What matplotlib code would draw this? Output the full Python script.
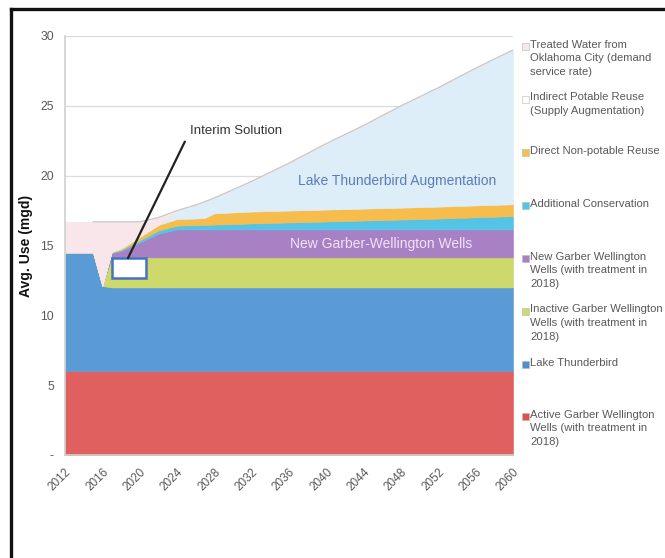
import numpy as np
import matplotlib
matplotlib.use('Agg')
import matplotlib.pyplot as plt
from matplotlib.lines import Line2D
from matplotlib.patches import Rectangle

plt.rcParams['font.family'] = ['Liberation Sans', 'DejaVu Sans']

# Years where the series change slope
years = [2012, 2015, 2016, 2017, 2018, 2020, 2022, 2024, 2026, 2027, 2028,
         2032, 2036, 2040, 2044, 2048, 2052, 2056, 2060]

# Layer thicknesses (mgd), bottom to top
active_gw = [6.0] * 19
lake_thunderbird = [8.5, 8.5, 6.1, 6.0, 6.0, 6.0, 6.0, 6.0, 6.0, 6.0, 6.0,
                    6.0, 6.0, 6.0, 6.0, 6.0, 6.0, 6.0, 6.0]
inactive_gw = [0, 0, 0, 2.15, 2.15, 2.15, 2.15, 2.15, 2.15, 2.15, 2.15,
               2.15, 2.15, 2.15, 2.15, 2.15, 2.15, 2.15, 2.15]
new_gw = [0, 0, 0, 0.3, 0.45, 1.07, 1.7, 2.0, 2.0, 2.0, 2.0,
          2.0, 2.0, 2.0, 2.0, 2.0, 2.0, 2.0, 2.0]
conservation = [0, 0, 0, 0.05, 0.08, 0.15, 0.22, 0.27, 0.31, 0.33, 0.35,
                0.43, 0.5, 0.57, 0.64, 0.71, 0.78, 0.87, 0.95]
non_potable = [0, 0, 0, 0.05, 0.1, 0.25, 0.4, 0.47, 0.47, 0.5, 0.8,
               0.85, 0.85, 0.85, 0.85, 0.85, 0.85, 0.85, 0.85]
indirect_potable = [0, 0, 0, 0, 0, 0, 0, 0.61, 0.97, 1.17, 1.1,
                    2.17, 3.4, 4.73, 5.96, 7.29, 8.52, 9.83, 11.05]
treated_okc = [2.2, 2.2, 4.6, 2.15, 1.92, 1.08, 0.53, 0, 0, 0, 0,
               0, 0, 0, 0, 0, 0, 0, 0]

series = [active_gw, lake_thunderbird, inactive_gw, new_gw, conservation,
          non_potable, indirect_potable, treated_okc]
colors = ['#e05f5f', '#5b9bd5', '#cdd96a', '#a880c4', '#55c3e6',
          '#f6bd4c', '#ddeef8', '#f8e6ea']

legend_labels = [
    'Treated Water from\nOklahoma City (demand\nservice rate)',
    'Indirect Potable Reuse\n(Supply Augmentation)',
    'Direct Non-potable Reuse',
    'Additional Conservation',
    'New Garber Wellington\nWells (with treatment in\n2018)',
    'Inactive Garber Wellington\nWells (with treatment in\n2018)',
    'Lake Thunderbird',
    'Active Garber Wellington\nWells (with treatment in\n2018)',
]
legend_colors = ['#f3e8ea', '#ffffff', '#f0c050', '#55c3e6', '#a880c4',
                 '#cdd96a', '#4f8fd0', '#e05050']

x_ticks = list(range(2012, 2061, 4))
y_ticks = [0, 5, 10, 15, 20, 25, 30]
y_tick_labels = ['-', '5', '10', '15', '20', '25', '30']

fig = plt.figure(figsize=(6.65, 5.58), dpi=100)
ax = fig.add_axes([65 / 665, 1 - 455 / 558, 448 / 665, 419 / 558])

ax.stackplot(years, *series, colors=colors, linewidth=0.4,
             edgecolor='face', zorder=2)

# thin demand line on top of the stack
total = np.sum(np.array(series), axis=0)
ax.plot(years[1:], total[1:], color='#c8c8c8', lw=0.9, zorder=3)

ax.set_xlim(2012, 2060)
ax.set_ylim(0, 30)
ax.set_xticks(x_ticks)
ax.set_xticklabels([str(y) for y in x_ticks], rotation=45, ha='right',
                   va='top', rotation_mode='anchor', color='#595959',
                   fontsize=8.5)
ax.set_yticks(y_ticks)
ax.set_yticklabels(y_tick_labels, color='#595959', fontsize=8.8)
ax.tick_params(length=0, pad=8)
ax.set_axisbelow(True)
ax.yaxis.grid(True, color='#dcdcdc', lw=0.9, zorder=0)

for s in ['top', 'right']:
    ax.spines[s].set_visible(False)
for s in ['left', 'bottom']:
    ax.spines[s].set_color('#d0d0d0')
    ax.spines[s].set_linewidth(1.2)

ax.set_ylabel('Avg. Use (mgd)', fontsize=10, fontweight='bold',
              color='#111111', labelpad=5)

# interim solution box and callout
ax.add_patch(Rectangle((2017.0, 12.65), 3.7, 1.45, facecolor='white',
                       edgecolor='#4472c4', lw=1.8, zorder=5))
ax.annotate('Interim Solution', xy=(2018.75, 14.1), xytext=(2025.4, 23.2),
            ha='left', va='center', fontsize=9.5, color='#333333',
            arrowprops=dict(arrowstyle='-', color='#222222', lw=1.6,
                            relpos=(0, 0.5), shrinkA=4, shrinkB=0),
            zorder=6)

ax.text(2047.6, 19.6, 'Lake Thunderbird Augmentation', ha='center',
        va='center', fontsize=10, color='#5a7db8', zorder=6)
ax.text(2045.9, 15.1, 'New Garber-Wellington Wells', ha='center',
        va='center', fontsize=10, color='#efe4f5', zorder=6)

# legend drawn by hand (Excel style: marker at first line)
row_y = [46, 99, 152, 205, 258, 311, 364, 416]
for lab, col, yy in zip(legend_labels, legend_colors, row_y):
    fig.patches.append(Rectangle((522 / 665, 1 - (yy + 3.5) / 558),
                                 7 / 665, 7 / 558, transform=fig.transFigure,
                                 facecolor=col, edgecolor='#b8b8b8',
                                 lw=0.4))
    fig.text(530 / 665, 1 - (yy - 6.5) / 558, lab, ha='left', va='top',
             fontsize=8.1, color='#595959', linespacing=1.45)

# black frame around the picture (top and left visible)
fig.add_artist(Line2D([11 / 665, 1], [1 - 9 / 558, 1 - 9 / 558],
                      transform=fig.transFigure, color='#111111', lw=2.4))
fig.add_artist(Line2D([11 / 665, 11 / 665], [0, 1 - 9 / 558],
                      transform=fig.transFigure, color='#111111', lw=2.4))

fig.savefig('out.png', dpi=100)
